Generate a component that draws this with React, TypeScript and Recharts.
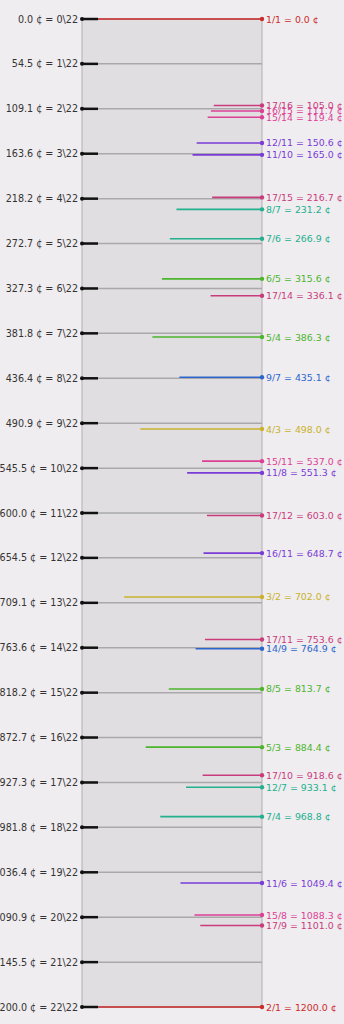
import React from 'react';
import { ComposedChart, XAxis, YAxis, Scatter, ReferenceArea, ReferenceLine } from 'recharts';

// 22-EDO steps (cents)
const stepCents = [
  0.0, 54.5, 109.1, 163.6, 218.2, 272.7, 327.3, 381.8, 436.4, 490.9, 545.5, 600.0,
  654.5, 709.1, 763.6, 818.2, 872.7, 927.3, 981.8, 1036.4, 1090.9, 1145.5, 1200.0,
];

// just intervals shown on the right
const ratios = [
  '1/1', '17/16', '16/15', '15/14', '12/11', '11/10', '17/15', '8/7', '7/6', '6/5',
  '17/14', '5/4', '9/7', '4/3', '15/11', '11/8', '17/12', '16/11', '3/2', '17/11',
  '14/9', '8/5', '5/3', '17/10', '12/7', '7/4', '11/6', '15/8', '17/9', '2/1',
];
const ratioCents = [
  0.0, 105.0, 111.7, 119.4, 150.6, 165.0, 216.7, 231.2, 266.9, 315.6,
  336.1, 386.3, 435.1, 498.0, 537.0, 551.3, 603.0, 648.7, 702.0, 753.6,
  764.9, 813.7, 884.4, 918.6, 933.1, 968.8, 1049.4, 1088.3, 1101.0, 1200.0,
];
// how far each line reaches into the box (fraction of its width)
const reach = [
  1.0, 0.268, 0.284, 0.302, 0.363, 0.386, 0.277, 0.475, 0.512, 0.556,
  0.286, 0.609, 0.459, 0.676, 0.333, 0.416, 0.306, 0.325, 0.766, 0.317,
  0.369, 0.518, 0.646, 0.330, 0.422, 0.565, 0.453, 0.375, 0.343, 0.910,
];
// odd limit of each ratio -> colour
const oddLimit = [
  1, 17, 15, 15, 11, 11, 17, 7, 7, 5,
  17, 5, 9, 3, 15, 11, 17, 11, 3, 17,
  9, 5, 5, 17, 7, 7, 11, 15, 17, 1,
];
const limitColors: Record<number, string> = {
  1: '#cc2b2b',
  3: '#c9b22a',
  5: '#4cb52c',
  7: '#22b08e',
  9: '#2c66cc',
  11: '#7a3bd6',
  15: '#dd3f94',
  17: '#c93c7c',
};

const FONT = '"DejaVu Sans", Verdana, sans-serif';

const stepData = stepCents.map((c, i) => ({ x: 0, y: c, label: `${c.toFixed(1)} ¢ = ${i}\\22` }));

function StepTick(props: any) {
  const { cx, cy, payload } = props;
  return (
    <g>
      <line x1={cx} x2={cx + 16} y1={cy} y2={cy} stroke="#111" strokeWidth={2.5} />
      <circle cx={cx} cy={cy} r={2} fill="#111" />
      <text x={cx - 4} y={cy} textAnchor="end" dominantBaseline="central" fontFamily={FONT} fontSize={9.6} fill="#333">
        {payload.label}
      </text>
    </g>
  );
}

function EndDot(props: any) {
  const { cx, cy, payload } = props;
  if (payload.x !== 1) return <g />;
  return (
    <g>
      <circle cx={cx} cy={cy} r={2.2} fill={payload.color} />
      <text x={cx + 4} y={cy} dominantBaseline="central" fontFamily={FONT} fontSize={9.4} fill={payload.color}>
        {payload.label}
      </text>
    </g>
  );
}

export default function App() {
  return (
    <div style={{ position: 'absolute', left: 0, top: 0, width: 344, height: 1024, background: '#efedf0' }}>
      <ComposedChart width={344} height={1024} margin={{ top: 19, right: 82, bottom: 17, left: 82 }}>
        <XAxis type="number" dataKey="x" domain={[0, 1]} hide />
        <YAxis type="number" dataKey="y" domain={[0, 1200]} reversed hide />
        <ReferenceArea x1={0} x2={1} y1={0} y2={1200} fill="#e0dee1" fillOpacity={1} stroke="none" />
        <ReferenceLine x={0} stroke="#b0afb2" strokeWidth={1} />
        <ReferenceLine x={1} stroke="#b0afb2" strokeWidth={1} />
        {stepCents.map((c) => (
          <ReferenceLine key={'s' + c} y={c} stroke="#a9a8aa" strokeWidth={1.5} />
        ))}
        {ratios.map((r, i) => {
          const color = limitColors[oddLimit[i]];
          const label = `${r} = ${ratioCents[i].toFixed(1)} ¢`;
          const data = [
            { x: 1 - reach[i], y: ratioCents[i], color, label },
            { x: 1, y: ratioCents[i], color, label },
          ];
          return (
            <Scatter
              key={r}
              data={data}
              line={{ stroke: color, strokeWidth: 1.6 }}
              shape={<EndDot />}
              isAnimationActive={false}
            />
          );
        })}
        <Scatter data={stepData} shape={<StepTick />} isAnimationActive={false} />
      </ComposedChart>
    </div>
  );
}
